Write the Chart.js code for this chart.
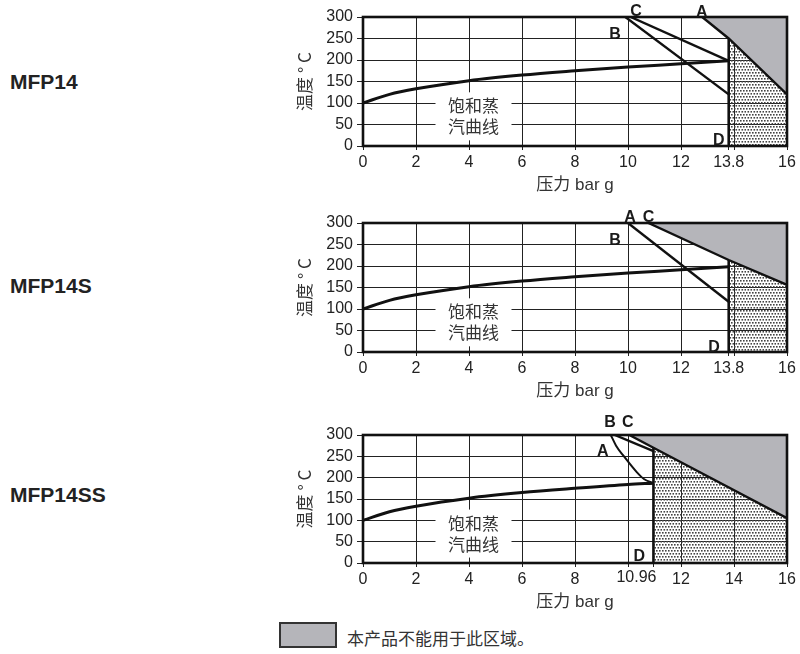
<!DOCTYPE html>
<html lang="zh"><head><meta charset="utf-8">
<title>MFP14 工作范围</title>
<script src="https://cdn.jsdelivr.net/npm/chart.js@4.4.0/dist/chart.umd.min.js"></script>
<style>
  body { margin: 0; background: #fff; width: 800px; height: 654px; position: relative; overflow: hidden;
         font-family: "Liberation Sans", "Noto Sans CJK SC", sans-serif; }
  .box { position: absolute; left: 290px; width: 510px; }
  .model { position: absolute; left: 10px; font-weight: bold; font-size: 21px; color: #222; transform: translateY(-50%); }
  .legend { position: absolute; left: 279px; top: 622px; width: 54px; height: 22px; background: #b5b5ba; border: 2px solid #333; }
  .legtext { position: absolute; left: 347px; top: 627px; font-size: 17px; color: #333; font-family: "Noto Sans CJK SC", sans-serif; line-height: 22px; }
</style>
</head>
<body>
  <div class="model" style="top:82px">MFP14</div>
  <div class="model" style="top:286px">MFP14S</div>
  <div class="model" style="top:495px">MFP14SS</div>

  <div class="box" style="top:0px"><canvas id="c1" width="510" height="200"></canvas></div>
  <div class="box" style="top:190px"><canvas id="c2" width="510" height="216"></canvas></div>
  <div class="box" style="top:400px"><canvas id="c3" width="510" height="217"></canvas></div>

  <div class="legend"></div>
  <div class="legtext">本产品不能用于此区域。</div>

<script>
// 饱和蒸汽曲线 (压力 bar g / 温度 °C)
const satP = [0, 1, 2, 4, 6, 8, 10, 12, 13.8];
const satT = [100, 120, 133, 152, 165, 175, 184, 191, 198];
const satP3 = [0, 1, 2, 4, 6, 8, 10, 10.96];
const satT3 = [100, 120, 133, 152, 165, 175, 184, 187];

// MFP14
const grayP1 = [12.8, 13.8, 16];   const grayT1 = [300, 250, 120];   // A
const bP1 = [9.9, 13.8];           const bT1 = [300, 120];
const cP1 = [10.1, 13.8];          const cT1 = [300, 198];
const dP1 = [13.8, 13.8];          const dT1 = [0, 250];

// MFP14S
const grayP2 = [10.77, 13.8, 16];  const grayT2 = [300, 214, 156];   // C
const bP2 = [10, 13.8];            const bT2 = [300, 117];           // A / B
const dP2 = [13.8, 13.8];          const dT2 = [0, 214];

// MFP14SS
const grayP3 = [10.05, 10.96, 16]; const grayT3 = [300, 270, 105];   // C
const aP3 = [9.35, 9.55, 9.82, 10.33, 10.6, 10.96];
const aT3 = [300, 275, 252, 213, 197, 187];
const bP3 = [9.5, 10.96];          const bT3 = [300, 262];
const dP3 = [10.96, 10.96];        const dT3 = [0, 270];

// 刻度
const yTicks = [0, 50, 100, 150, 200, 250, 300];
const xTicks1 = [0, 2, 4, 6, 8, 10, 12, 13.8, 14, 16];
const xText1 = ['0', '2', '4', '6', '8', '10', '12', '13.8', '', '16'];
const xTicks3 = [0, 2, 4, 6, 8, 10, 10.96, 12, 14, 16];
const xText3 = ['0', '2', '4', '6', '8', '', '', '12', '14', '16'];

const FONT = "'Liberation Sans', 'Noto Sans CJK SC', sans-serif";
const CJK = "'Noto Sans CJK SC', sans-serif";
const GRAY = '#b5b5ba';

const pts = (xs, ys) => xs.map((x, i) => ({ x: x, y: ys[i] }));

// 点状图案
const tile = document.createElement('canvas');
tile.width = 6; tile.height = 6;
const tc = tile.getContext('2d');
tc.fillStyle = '#444';
[[0, 0], [3, 0], [1.5, 3], [4.5, 3]].forEach(p => tc.fillRect(p[0], p[1], 1.6, 1.6));
const dots = tc.createPattern(tile, 'repeat');

const line = (data, w, extra) => Object.assign({
  data: data, showLine: true, pointRadius: 0, borderColor: '#111', borderWidth: w, fill: false, order: 1
}, extra || {});

// 外框 + 标注
const frame = {
  id: 'frame',
  afterDatasetsDraw(chart) {
    const a = chart.chartArea, c = chart.ctx;
    c.save();
    c.strokeStyle = '#111'; c.lineWidth = 2.6;
    c.strokeRect(a.left, a.top, a.right - a.left, a.bottom - a.top);
    c.restore();
  },
  afterDraw(chart) {
    const o = chart.options.plugins.frame, c = chart.ctx;
    const xs = chart.scales.x, ys = chart.scales.y;
    c.save();
    // 饱和蒸汽曲线 文字
    const cx = xs.getPixelForValue(o.sat[0]), cy = ys.getPixelForValue(o.sat[1]);
    c.fillStyle = '#fff';
    c.fillRect(cx - 38, cy - 24, 76, 48);
    c.fillStyle = '#333';
    c.font = '17px ' + CJK;
    c.textAlign = 'center'; c.textBaseline = 'middle';
    c.fillText('饱和蒸', cx, cy - 10.5);
    c.fillText('汽曲线', cx, cy + 10.5);
    // A B C D
    c.fillStyle = '#1a1a1a';
    c.font = 'bold 16px ' + FONT;
    o.notes.forEach(n => c.fillText(n[0], xs.getPixelForValue(n[1]), ys.getPixelForValue(n[2])));
    if (o.extraTick) {
      c.font = '16px ' + FONT;
      c.fillStyle = '#222';
      c.textBaseline = 'top';
      c.fillText(o.extraTick[0], xs.getPixelForValue(o.extraTick[1]), chart.chartArea.bottom + 7);
    }
    c.restore();
  }
};

function makeChart(id, padTop, datasets, xt, xl, notes, extraTick) {
  return new Chart(document.getElementById(id), {
    type: 'scatter',
    data: { datasets: datasets },
    options: {
      responsive: false,
      animation: false,
      layout: { padding: { top: padTop, right: 13, left: 0, bottom: 0 } },
      plugins: {
        legend: { display: false },
        tooltip: { enabled: false },
        frame: { sat: [4.17, 69], notes: notes, extraTick: extraTick }
      },
      scales: {
        x: {
          type: 'linear', min: 0, max: 16,
          afterBuildTicks: s => { s.ticks = xt.map(v => ({ value: v })); },
          afterFit: s => { s.height = 54; },
          ticks: { autoSkip: false, maxRotation: 0, padding: 3, color: '#222',
                   font: { family: FONT, size: 16 }, callback: (v, i) => xl[i] },
          grid: { color: '#222', lineWidth: 1, tickLength: 4 },
          border: { display: false },
          title: { display: true, text: '压力 bar g', color: '#333',
                   font: { family: FONT, size: 17 }, padding: { top: 2, bottom: 4 } }
        },
        y: {
          min: 0, max: 300,
          afterBuildTicks: s => { s.ticks = yTicks.map(v => ({ value: v })); },
          afterFit: s => { s.width = 73; },
          ticks: { autoSkip: false, padding: 4, color: '#222', font: { family: FONT, size: 16 } },
          grid: { color: '#222', lineWidth: 1, tickLength: 6 },
          border: { display: false },
          title: { display: true, text: '温度 ° C', color: '#333',
                   font: { family: CJK, size: 17 }, padding: { top: 4, bottom: 0 } }
        }
      }
    },
    plugins: [frame]
  });
}

makeChart('c1', 17, [
  line(pts(satP, satT), 3, { cubicInterpolationMode: 'monotone' }),
  line(pts(bP1, bT1), 2.4),
  line(pts(cP1, cT1), 2.4),
  line(pts(dP1, dT1), 2.6),
  line(pts(grayP1, grayT1), 2.4, { fill: 'end', backgroundColor: GRAY, order: 5 }),
  line(pts(grayP1.slice(1), grayT1.slice(1)), 0, { fill: 'origin', backgroundColor: dots, borderColor: 'transparent', order: 6 })
], xTicks1, xText1, [['C', 10.3, 312], ['A', 12.78, 310], ['B', 9.51, 260], ['D', 13.43, 12]]);

makeChart('c2', 33, [
  line(pts(satP, satT), 3, { cubicInterpolationMode: 'monotone' }),
  line(pts(bP2, bT2), 2.4),
  line(pts(dP2, dT2), 2.6),
  line(pts(grayP2, grayT2), 2.4, { fill: 'end', backgroundColor: GRAY, order: 5 }),
  line(pts(grayP2.slice(1), grayT2.slice(1)), 0, { fill: 'origin', backgroundColor: dots, borderColor: 'transparent', order: 6 })
], xTicks1, xText1, [['A', 10.08, 313], ['C', 10.77, 313], ['B', 9.51, 258], ['D', 13.25, 10]]);

makeChart('c3', 35, [
  line(pts(satP3, satT3), 3, { cubicInterpolationMode: 'monotone' }),
  line(pts(aP3, aT3), 2, { cubicInterpolationMode: 'monotone' }),
  line(pts(bP3, bT3), 2.4),
  line(pts(dP3, dT3), 2.6),
  line(pts(grayP3, grayT3), 2.4, { fill: 'end', backgroundColor: GRAY, order: 5 }),
  line(pts(grayP3.slice(1), grayT3.slice(1)), 0, { fill: 'origin', backgroundColor: dots, borderColor: 'transparent', order: 6 })
], xTicks3, xText3, [['B', 9.32, 330], ['C', 9.99, 330], ['A', 9.05, 262], ['D', 10.43, 15]], ['10.96', 10.32]);
</script>
</body>
</html>
